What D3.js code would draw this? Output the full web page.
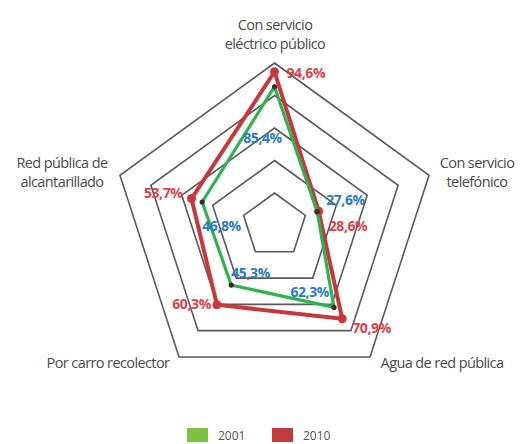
<!DOCTYPE html>
<html>
<head>
<meta charset="utf-8">
<script src="https://cdn.jsdelivr.net/npm/d3@7"></script>
<style>
body{margin:0;background:#fff}
svg{display:block}
.cat{font-family:"Open Sans",sans-serif;font-size:14.5px;fill:#4a4a4a;letter-spacing:-0.6px}
.val{font-family:"Open Sans",sans-serif;font-size:14px;font-weight:bold;letter-spacing:-0.4px}
.leg{font-family:"Open Sans",sans-serif;font-size:12px;fill:#555}
</style>
</head>
<body>
<div id="container"></div>
<script>
// servicios por vivienda, en porcentaje
var categories = ["Con servicio|eléctrico público","Con servicio|telefónico","Agua de red pública","Por carro recolector","Red pública de|alcantarillado"]
var values2001 = [85.4, 27.6, 62.3, 45.3, 46.8]
var values2010 = [94.6, 28.6, 70.9, 60.3, 53.7]
var ringTicks = [20, 40, 60, 80, 100]
var years = ["2001", "2010"]

var w = 520
var h = 444
var cx = 274.5
var cy = 225.5
var R = 162.5

var rScale = d3.scaleLinear().domain([0,100]).range([0,R])
var angle = d3.scaleLinear().domain([0,categories.length]).range([0,2*Math.PI])

function pt(i,v){
    var a = angle(i)
    return [cx+rScale(v)*Math.sin(a), cy-rScale(v)*Math.cos(a)]
}

var svg = d3.select("#container").append("svg").attr("width",w).attr("height",h)

// anillos de la grilla
ringTicks.forEach(function(t){
    var pts = categories.map(function(c,i){return pt(i,t)})
    svg.append("path")
        .attr("d", d3.line()(pts)+"Z")
        .attr("fill","none")
        .attr("stroke","#5a5a5a")
        .attr("stroke-width",1.6)
})

// etiquetas de categoria
var catPos = [
    {x:275, y:30, anchor:"middle"},
    {x:477, y:168, anchor:"middle"},
    {x:442, y:368, anchor:"middle"},
    {x:108, y:368, anchor:"middle"},
    {x:62, y:168, anchor:"middle"}
]
categories.forEach(function(c,i){
    var lines = c.split("|")
    var t = svg.append("text").attr("class","cat")
        .attr("x",catPos[i].x).attr("y",catPos[i].y)
        .attr("text-anchor",catPos[i].anchor)
    lines.forEach(function(l,j){
        t.append("tspan").attr("x",catPos[i].x).attr("dy",j==0?0:19).text(l)
    })
})

var series = [
    {name:"2010", values:values2010, color:"#c8373d", width:4, marker:"#c8373d", mr:4.5, label:"#d8434b"},
    {name:"2001", values:values2001, color:"#2fb34f", width:3.2, marker:"#3a2a2a", mr:2.6, label:"#2c7bbf"}
]

series.forEach(function(s){
    var pts = s.values.map(function(v,i){return pt(i,v)})
    svg.append("path")
        .attr("d", d3.line()(pts)+"Z")
        .attr("fill","none")
        .attr("stroke",s.color)
        .attr("stroke-width",s.width)
        .attr("stroke-linejoin","miter")
    svg.selectAll(".m"+s.name).data(pts).enter().append("circle")
        .attr("cx",function(d){return d[0]})
        .attr("cy",function(d){return d[1]})
        .attr("r",s.mr)
        .attr("fill",s.marker)
})

// posicion de los valores respecto al vertice
var offs2010 = [
    {dx:12, dy:6, anchor:"start"},
    {dx:10, dy:20, anchor:"start"},
    {dx:10, dy:14, anchor:"start"},
    {dx:-6, dy:4, anchor:"end"},
    {dx:-9, dy:-1, anchor:"end"}
]
var offs2001 = [
    {dx:-12, dy:56, anchor:"middle"},
    {dx:9, dy:-7, anchor:"start"},
    {dx:-5, dy:-10, anchor:"end"},
    {dx:0, dy:-7, anchor:"start"},
    {dx:0, dy:29, anchor:"start"}
]
var fmt = function(v){return d3.format(".1f")(v).replace(".",",")+"%"}

;[[series[0],offs2010],[series[1],offs2001]].forEach(function(p){
    var s = p[0], o = p[1]
    s.values.forEach(function(v,i){
        var q = pt(i,v)
        svg.append("text").attr("class","val")
            .attr("x",q[0]+o[i].dx).attr("y",q[1]+o[i].dy)
            .attr("text-anchor",o[i].anchor)
            .attr("fill",s.label)
            .text(fmt(v))
    })
})

// leyenda
var legColors = ["#7cc241","#c33a3e"]
var legX = [187, 272]
years.forEach(function(y,i){
    svg.append("rect").attr("x",legX[i]).attr("y",428).attr("width",21).attr("height",14).attr("fill",legColors[i])
    svg.append("text").attr("class","leg").attr("x",legX[i]+31).attr("y",440).text(y)
})
</script>
</body>
</html>
